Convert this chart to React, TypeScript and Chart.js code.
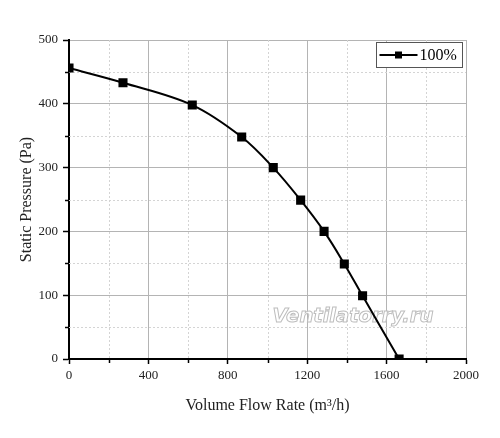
import React, { useEffect, useRef } from "react";
import { Chart, registerables } from "chart.js";

Chart.register(...registerables);

const flowRates = [0, 272, 621, 870, 1029, 1167, 1285, 1387, 1479, 1663];
const pressures = [456, 433, 398, 348, 300, 249, 200, 149, 99, 0];
const seriesLabel = "100%";
const xTitle = "Volume Flow Rate (m\u00B3/h)";
const yTitle = "Static Pressure (Pa)";
const xMinorTicks = [200, 600, 1000, 1400, 1800];
const yMinorTicks = [50, 150, 250, 350, 450];
const watermarkText = "Ventilatorry.ru";

const SERIF = "'Liberation Serif', 'Times New Roman', serif";

const decorPlugin = {
  id: "decor",
  beforeDatasetsDraw(chart: any) {
    const { ctx, chartArea } = chart;
    const xs = chart.scales.x;
    const ys = chart.scales.y;
    ctx.save();
    ctx.strokeStyle = "#d4d4d4";
    ctx.lineWidth = 1;
    ctx.setLineDash([2, 2]);
    xMinorTicks.forEach((v) => {
      const px = Math.round(xs.getPixelForValue(v)) + 0.5;
      ctx.beginPath();
      ctx.moveTo(px, chartArea.top);
      ctx.lineTo(px, chartArea.bottom);
      ctx.stroke();
    });
    yMinorTicks.forEach((v) => {
      const py = Math.round(ys.getPixelForValue(v)) + 0.5;
      ctx.beginPath();
      ctx.moveTo(chartArea.left, py);
      ctx.lineTo(chartArea.right, py);
      ctx.stroke();
    });
    ctx.setLineDash([]);
    ctx.strokeStyle = "#000";
    ctx.lineWidth = 1.5;
    xMinorTicks.forEach((v) => {
      const px = Math.round(xs.getPixelForValue(v)) + 0.5;
      ctx.beginPath();
      ctx.moveTo(px, chartArea.bottom);
      ctx.lineTo(px, chartArea.bottom + 4);
      ctx.stroke();
    });
    yMinorTicks.forEach((v) => {
      const py = Math.round(ys.getPixelForValue(v)) + 0.5;
      ctx.beginPath();
      ctx.moveTo(chartArea.left, py);
      ctx.lineTo(chartArea.left - 4, py);
      ctx.stroke();
    });
    let size = 22;
    ctx.font = `italic bold ${size}px 'DejaVu Sans', sans-serif`;
    const w = ctx.measureText(watermarkText).width;
    size = (size * 161) / w;
    ctx.font = `italic bold ${size}px 'DejaVu Sans', sans-serif`;
    ctx.textAlign = "center";
    ctx.textBaseline = "middle";
    const wx = xs.getPixelForValue(1430);
    const wy = ys.getPixelForValue(66);
    ctx.fillStyle = "rgba(255,255,255,0.85)";
    ctx.fillText(watermarkText, wx, wy);
    ctx.strokeStyle = "#bdbdbd";
    ctx.lineWidth = 1;
    ctx.strokeText(watermarkText, wx, wy);
    ctx.restore();
  },
  afterDatasetsDraw(chart: any) {
    const { ctx, chartArea } = chart;
    ctx.save();
    const bw = 86;
    const bh = 25;
    const bx = chartArea.right - bw - 3.5;
    const by = chartArea.top + 2.5;
    ctx.fillStyle = "#fff";
    ctx.fillRect(bx, by, bw, bh);
    ctx.strokeStyle = "#555";
    ctx.lineWidth = 1;
    ctx.strokeRect(bx, by, bw, bh);
    const cy = by + bh / 2;
    ctx.strokeStyle = "#000";
    ctx.lineWidth = 2;
    ctx.beginPath();
    ctx.moveTo(bx + 3, cy);
    ctx.lineTo(bx + 41, cy);
    ctx.stroke();
    ctx.fillStyle = "#000";
    ctx.fillRect(bx + 22 - 3.5, cy - 3.5, 7, 7);
    ctx.font = `16px ${SERIF}`;
    ctx.textAlign = "left";
    ctx.textBaseline = "middle";
    ctx.fillText(seriesLabel, bx + 43, cy + 1);
    ctx.restore();
  },
};

export default function App() {
  const canvasRef = useRef<HTMLCanvasElement | null>(null);

  useEffect(() => {
    document.body.style.margin = "0";
    const canvas = canvasRef.current;
    if (!canvas) return;
    const chart = new Chart(canvas, {
      type: "scatter",
      data: {
        datasets: [
          {
            label: seriesLabel,
            data: flowRates.map((x, i) => ({ x, y: pressures[i] })),
            showLine: true,
            borderColor: "#000",
            backgroundColor: "#000",
            borderWidth: 2,
            pointStyle: "rect",
            pointRadius: 5,
            pointHoverRadius: 5,
            tension: 0.35,
          } as any,
        ],
      },
      options: {
        animation: false,
        responsive: false,
        maintainAspectRatio: false,
        layout: { padding: { top: 40, right: 34, left: 0, bottom: 0 } },
        plugins: {
          legend: { display: false },
          tooltip: { enabled: false },
        },
        scales: {
          x: {
            type: "linear",
            min: 0,
            max: 2000,
            afterFit: (s: any) => {
              s.height = 79;
            },
            ticks: {
              stepSize: 400,
              color: "#222",
              font: { family: SERIF, size: 13 },
              padding: 4,
              maxRotation: 0,
              callback: (v: any) => String(v),
            },
            grid: {
              color: "#b4b4b4",
              lineWidth: 1,
              tickColor: "#000",
              tickLength: 5,
              tickWidth: 1.5,
            },
            border: { color: "#000", width: 2 },
            title: {
              display: true,
              text: xTitle,
              color: "#222",
              font: { family: SERIF, size: 16 },
              padding: { top: 0, bottom: 23 },
            },
          },
          y: {
            type: "linear",
            min: 0,
            max: 500,
            afterFit: (s: any) => {
              s.width = 69;
            },
            ticks: {
              stepSize: 100,
              color: "#222",
              font: { family: SERIF, size: 13 },
              padding: 5,
              callback: (v: any) => String(v),
            },
            grid: {
              color: "#b4b4b4",
              lineWidth: 1,
              tickColor: "#000",
              tickLength: 6,
              tickWidth: 1.5,
            },
            border: { color: "#000", width: 2 },
            title: {
              display: true,
              text: yTitle,
              color: "#222",
              font: { family: SERIF, size: 16 },
              padding: { top: 17, bottom: 0 },
            },
          },
        },
      },
      plugins: [decorPlugin],
    });
    return () => chart.destroy();
  }, []);

  return (
    <div style={{ width: 500, height: 438, background: "#fff" }}>
      <canvas ref={canvasRef} width={500} height={438} style={{ width: 500, height: 438, display: "block" }} />
    </div>
  );
}
